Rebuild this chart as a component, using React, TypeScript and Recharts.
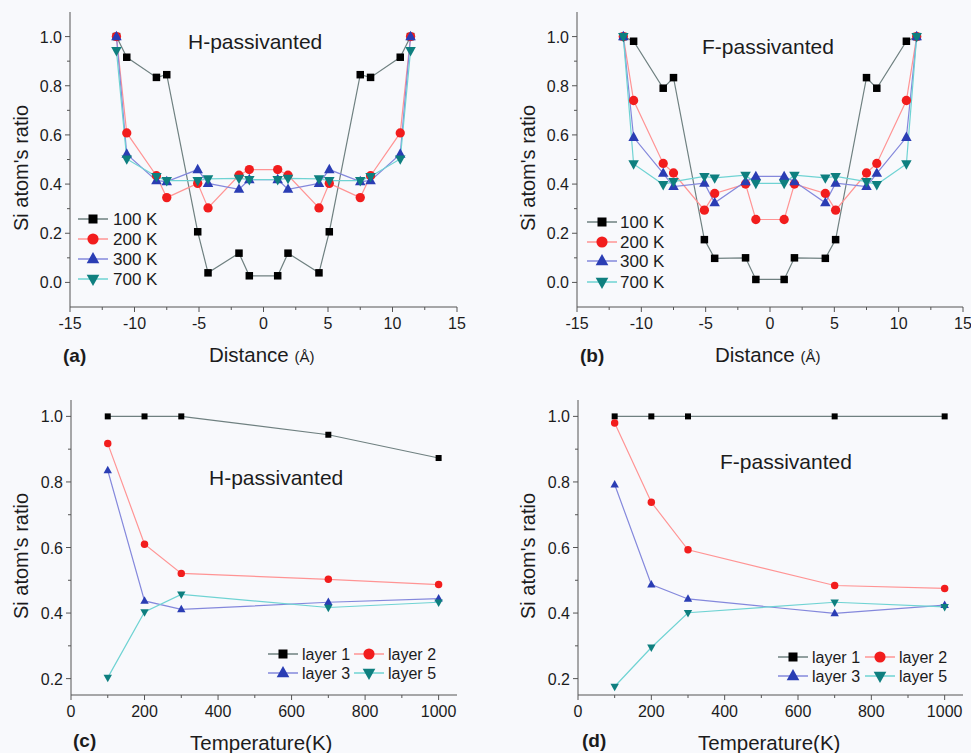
import { LineChart, Line, XAxis, YAxis, Legend, Customized } from 'recharts';

// distance of each Si layer from the wire centre (Å)
const distance = [-11.4, -10.6, -8.3, -7.5, -5.1, -4.3, -1.9, -1.1, 1.1, 1.9, 4.3, 5.1, 7.5, 8.3, 10.6, 11.4];

// (a) H-passivanted
const hDist100 = [1.0, 0.916, 0.834, 0.845, 0.206, 0.039, 0.119, 0.027, 0.027, 0.119, 0.039, 0.206, 0.845, 0.834, 0.916, 1.0];
const hDist200 = [1.0, 0.608, 0.434, 0.345, 0.403, 0.303, 0.436, 0.459, 0.459, 0.436, 0.303, 0.403, 0.345, 0.434, 0.608, 1.0];
const hDist300 = [1.0, 0.522, 0.414, 0.41, 0.459, 0.403, 0.379, 0.418, 0.418, 0.379, 0.403, 0.459, 0.41, 0.414, 0.522, 1.0];
const hDist700 = [0.943, 0.502, 0.431, 0.414, 0.414, 0.421, 0.423, 0.418, 0.418, 0.423, 0.421, 0.414, 0.414, 0.431, 0.502, 0.943];

// (b) F-passivanted
const fDist100 = [1.0, 0.981, 0.79, 0.833, 0.174, 0.098, 0.1, 0.012, 0.012, 0.1, 0.098, 0.174, 0.833, 0.79, 0.981, 1.0];
const fDist200 = [1.0, 0.74, 0.484, 0.445, 0.294, 0.362, 0.4, 0.256, 0.256, 0.4, 0.362, 0.294, 0.445, 0.484, 0.74, 1.0];
const fDist300 = [1.0, 0.59, 0.444, 0.39, 0.404, 0.324, 0.41, 0.431, 0.431, 0.41, 0.324, 0.404, 0.39, 0.444, 0.59, 1.0];
const fDist700 = [1.0, 0.482, 0.398, 0.41, 0.431, 0.425, 0.436, 0.403, 0.403, 0.436, 0.425, 0.431, 0.41, 0.398, 0.482, 1.0];

// (c)/(d) ratio vs temperature
const temperature = [100, 200, 300, 700, 1000];
const hLayer1 = [1.0, 1.0, 1.0, 0.944, 0.873];
const hLayer2 = [0.917, 0.61, 0.521, 0.503, 0.487];
const hLayer3 = [0.835, 0.437, 0.411, 0.433, 0.444];
const hLayer5 = [0.203, 0.403, 0.457, 0.417, 0.433];
const fLayer1 = [1.0, 1.0, 1.0, 1.0, 1.0];
const fLayer2 = [0.98, 0.738, 0.593, 0.484, 0.475];
const fLayer3 = [0.792, 0.487, 0.443, 0.399, 0.424];
const fLayer5 = [0.176, 0.295, 0.401, 0.433, 0.419];

const tempNames = ['100 K', '200 K', '300 K', '700 K'];
const layerNames = ['layer 1', 'layer 2', 'layer 3', 'layer 5'];

const distMajor = [-15, -10, -5, 0, 5, 10, 15];
const distMinor = [-12.5, -7.5, -2.5, 2.5, 7.5, 12.5];
const ratioMajor = [0, 0.2, 0.4, 0.6, 0.8, 1.0];
const ratioMinor = [0.1, 0.3, 0.5, 0.7, 0.9];
const tempMajor = [0, 200, 400, 600, 800, 1000];
const tempMinor = [100, 300, 500, 700, 900];
const ratioMajorT = [0.2, 0.4, 0.6, 0.8, 1.0];
const ratioMinorT = [0.3, 0.5, 0.7, 0.9];

const FONT = '"Liberation Sans", Arial, sans-serif';
const AXIS = '#555';
const FRAME = '#8a8a8a';
const INK = '#1c1c1c';

// marker colour, line colour, shape
const STYLES = [
  { fill: '#000000', line: '#6f8080', shape: 'square' },
  { fill: '#f21d1d', line: '#ff9494', shape: 'circle' },
  { fill: '#2a3db4', line: '#8488dc', shape: 'up' },
  { fill: '#0e7f7f', line: '#6fd3d3', shape: 'down' },
];

function Marker({ cx, cy, shape, fill, s }: any) {
  if (cx == null || cy == null) return null;
  if (shape === 'square') return <rect x={cx - s / 2} y={cy - s / 2} width={s} height={s} fill={fill} />;
  if (shape === 'circle') return <circle cx={cx} cy={cy} r={s * 0.62} fill={fill} />;
  const w = s * 1.4;
  const h = s * 1.25;
  if (shape === 'up')
    return <polygon points={`${cx},${cy - h * 0.62} ${cx - w / 2},${cy + h * 0.38} ${cx + w / 2},${cy + h * 0.38}`} fill={fill} />;
  return <polygon points={`${cx},${cy + h * 0.62} ${cx - w / 2},${cy - h * 0.38} ${cx + w / 2},${cy - h * 0.38}`} fill={fill} />;
}

const near = (list: number[], v: number) => list.some((m) => Math.abs(m - v) < 1e-6);

const makeXTick = (major: number[]) => (props: any) => {
  const { x, y, payload } = props;
  const isMajor = near(major, payload.value);
  return (
    <g>
      <line x1={x} x2={x} y1={y} y2={y + (isMajor ? 5 : 3)} stroke={AXIS} strokeWidth={1} />
      {isMajor && (
        <text x={x} y={y + 22} textAnchor="middle" fontSize={16} fontFamily={FONT} fill={INK}>
          {payload.value}
        </text>
      )}
    </g>
  );
};

const makeYTick = (major: number[]) => (props: any) => {
  const { x, y, payload } = props;
  const isMajor = near(major, payload.value);
  return (
    <g>
      <line x1={x} x2={x - (isMajor ? 5 : 3)} y1={y} y2={y} stroke={AXIS} strokeWidth={1} />
      {isMajor && (
        <text x={x - 8} y={y + 6} textAnchor="end" fontSize={16} fontFamily={FONT} fill={INK}>
          {payload.value.toFixed(1)}
        </text>
      )}
    </g>
  );
};

function Panel(props: any) {
  const {
    left, top, width, height, margin, rows, names, xDomain, xMajor, xMinor, yDomain, yMajor, yMinor,
    dotSize, title, tag, xTitle, xUnit, legend,
  } = props;
  const keys = ['s0', 's1', 's2', 's3'];
  return (
    <div style={{ position: 'absolute', left, top, width, height }}>
      <LineChart width={width} height={height} data={rows} margin={margin} style={{ fontFamily: FONT }}>
        <XAxis
          dataKey="x" type="number" domain={xDomain} ticks={[...xMajor, ...xMinor].sort((a, b) => a - b)}
          interval={0} allowDataOverflow tickSize={0} tickMargin={0} tickLine={false}
          axisLine={{ stroke: AXIS }} tick={makeXTick(xMajor)} height={30}
        />
        <XAxis xAxisId="top" orientation="top" type="number" domain={xDomain} tick={false} tickLine={false}
          axisLine={{ stroke: FRAME }} height={0} />
        <YAxis
          type="number" domain={yDomain} ticks={[...yMajor, ...yMinor].sort((a, b) => a - b)} interval={0}
          allowDataOverflow tickSize={0} tickMargin={0} tickLine={false} axisLine={{ stroke: AXIS }}
          tick={makeYTick(yMajor)} width={55}
        />
        <YAxis yAxisId="right" orientation="right" tick={false} tickLine={false} axisLine={{ stroke: FRAME }} width={0} />
        {keys.map((k, i) => (
          <Line
            key={k} dataKey={k} name={names[i]} stroke={STYLES[i].line} strokeWidth={1.2}
            isAnimationActive={false}
            dot={(p: any) => (
              <Marker key={`${k}-${p.index}`} cx={p.cx} cy={p.cy} shape={STYLES[i].shape} fill={STYLES[i].fill} s={dotSize} />
            )}
            activeDot={false}
          />
        ))}
        <Legend
          layout="vertical" align="center" verticalAlign="middle"
          wrapperStyle={{ left: 0, top: 0, width, height, pointerEvents: 'none' }}
          content={() => (
            <svg width={width} height={height} style={{ display: 'block' }}>
              {names.map((n: string, i: number) => {
                const it = legend.items[i];
                return (
                  <g key={n}>
                    <line x1={it.x} x2={it.x + 30} y1={it.y} y2={it.y} stroke={STYLES[i].line} strokeWidth={1.5} />
                    <Marker cx={it.x + 15} cy={it.y} shape={STYLES[i].shape} fill={STYLES[i].fill} s={9} />
                    <text x={it.x + legend.gap} y={it.y + 6} fontSize={legend.fontSize} fontFamily={FONT} fill={INK}>
                      {n}
                    </text>
                  </g>
                );
              })}
            </svg>
          )}
        />
        <Customized
          component={() => (
            <g fontFamily={FONT} fill={INK}>
              <text x={title.x} y={title.y} fontSize={21}>{title.text}</text>
              <text x={tag.x} y={tag.y} fontSize={19} fontWeight="bold">{tag.text}</text>
              <text x={xTitle.x} y={xTitle.y} fontSize={20.5}>
                {xTitle.text}
                {xUnit && <tspan fontSize={15}>{xUnit}</tspan>}
              </text>
              <text
                x={props.yTitleX} y={props.yTitleY} fontSize={20} textAnchor="middle"
                transform={`rotate(-90 ${props.yTitleX} ${props.yTitleY})`}
              >
                Si atom's ratio
              </text>
            </g>
          )}
        />
      </LineChart>
    </div>
  );
}

const toRows = (xs: number[], a: number[], b: number[], c: number[], d: number[]) =>
  xs.map((x, i) => ({ x, s0: a[i], s1: b[i], s2: c[i], s3: d[i] }));

export default function App() {
  return (
    <div style={{ position: 'absolute', left: 0, top: 0, width: 971, height: 753, background: '#f8f9fc', overflow: 'hidden' }}>
      <Panel
        left={0} top={0} width={485} height={375} margin={{ top: 12, right: 28, bottom: 38, left: 15 }}
        rows={toRows(distance, hDist100, hDist200, hDist300, hDist700)} names={tempNames}
        xDomain={[-15, 15]} xMajor={distMajor} xMinor={distMinor}
        yDomain={[-0.1, 1.1]} yMajor={ratioMajor} yMinor={ratioMinor} dotSize={7.5}
        title={{ text: 'H-passivanted', x: 188, y: 49 }} tag={{ text: '(a)', x: 63, y: 362 }}
        xTitle={{ text: 'Distance ', x: 209, y: 362 }} xUnit="(Å)" yTitleX={28} yTitleY={168}
        legend={{ gap: 35, fontSize: 17, items: [{ x: 78, y: 219 }, { x: 78, y: 239 }, { x: 78, y: 259 }, { x: 78, y: 279 }] }}
      />
      <Panel
        left={490} top={0} width={481} height={375} margin={{ top: 12, right: 8, bottom: 38, left: 32 }}
        rows={toRows(distance, fDist100, fDist200, fDist300, fDist700)} names={tempNames}
        xDomain={[-15, 15]} xMajor={distMajor} xMinor={distMinor}
        yDomain={[-0.1, 1.1]} yMajor={ratioMajor} yMinor={ratioMinor} dotSize={7.5}
        title={{ text: 'F-passivanted', x: 212, y: 54 }} tag={{ text: '(b)', x: 90, y: 362 }}
        xTitle={{ text: 'Distance ', x: 225, y: 362 }} xUnit="(Å)" yTitleX={45} yTitleY={168}
        legend={{ gap: 33, fontSize: 17, items: [{ x: 97, y: 222 }, { x: 97, y: 242 }, { x: 97, y: 261 }, { x: 97, y: 282 }] }}
      />
      <Panel
        left={0} top={380} width={485} height={373} margin={{ top: 20, right: 28, bottom: 28, left: 16 }}
        rows={toRows(temperature, hLayer1, hLayer2, hLayer3, hLayer5)} names={layerNames}
        xDomain={[0, 1050]} xMajor={tempMajor} xMinor={tempMinor}
        yDomain={[0.15, 1.05]} yMajor={ratioMajorT} yMinor={ratioMinorT} dotSize={6}
        title={{ text: 'H-passivanted', x: 209, y: 105 }} tag={{ text: '(c)', x: 73, y: 367 }}
        xTitle={{ text: 'Temperature(K)', x: 190, y: 370 }} xUnit="" yTitleX={28} yTitleY={176}
        legend={{ gap: 34, fontSize: 16, items: [{ x: 268, y: 274 }, { x: 354, y: 274 }, { x: 268, y: 293 }, { x: 354, y: 293 }] }}
      />
      <Panel
        left={490} top={380} width={481} height={373} margin={{ top: 20, right: 8, bottom: 28, left: 33 }}
        rows={toRows(temperature, fLayer1, fLayer2, fLayer3, fLayer5)} names={layerNames}
        xDomain={[0, 1050]} xMajor={tempMajor} xMinor={tempMinor}
        yDomain={[0.15, 1.05]} yMajor={ratioMajorT} yMinor={ratioMinorT} dotSize={6}
        title={{ text: 'F-passivanted', x: 230, y: 89 }} tag={{ text: '(d)', x: 92, y: 367 }}
        xTitle={{ text: 'Temperature(K)', x: 208, y: 370 }} xUnit="" yTitleX={45} yTitleY={176}
        legend={{ gap: 34, fontSize: 16, items: [{ x: 288, y: 277 }, { x: 375, y: 277 }, { x: 288, y: 296 }, { x: 375, y: 296 }] }}
      />
    </div>
  );
}
